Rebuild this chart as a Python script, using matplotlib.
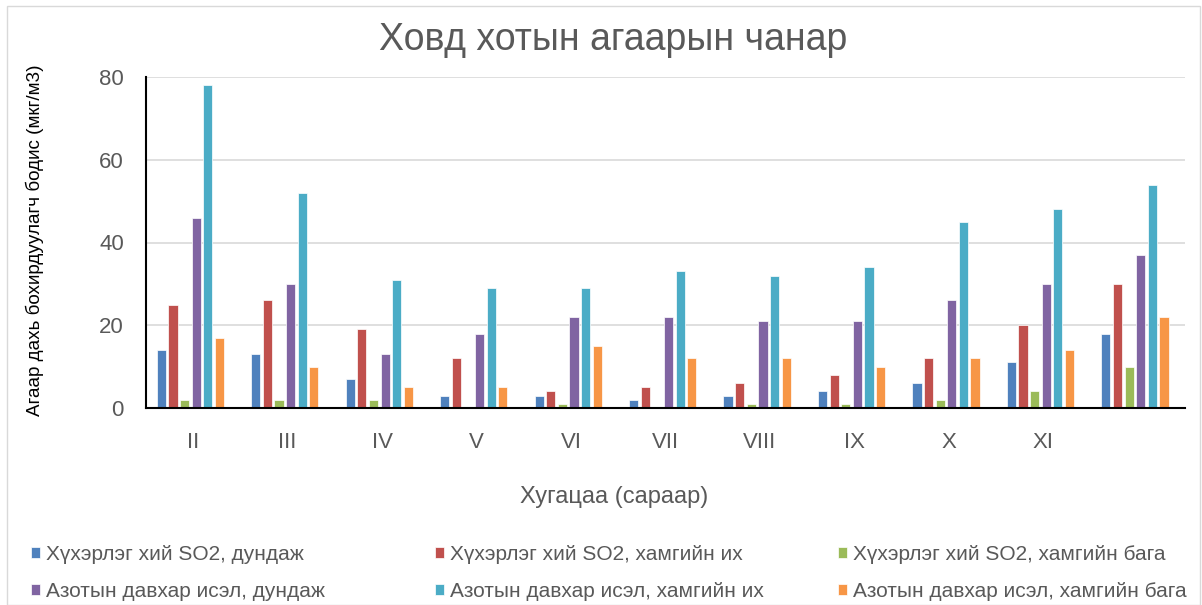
import matplotlib
matplotlib.use("Agg")
import matplotlib.pyplot as plt
import numpy as np
from matplotlib.patches import Rectangle

categories = ["II", "III", "IV", "V", "VI", "VII", "VIII", "IX", "X", "XI", ""]
so2_avg = [14, 13, 7, 3, 3, 2, 3, 4, 6, 11, 18]
so2_max = [25, 26, 19, 12, 4, 5, 6, 8, 12, 20, 30]
so2_min = [2, 2, 2, 0, 1, 0, 1, 1, 2, 4, 10]
no2_avg = [46, 30, 13, 18, 22, 22, 21, 21, 26, 30, 37]
no2_max = [78, 52, 31, 29, 29, 33, 32, 34, 45, 48, 54]
no2_min = [17, 10, 5, 5, 15, 12, 12, 10, 12, 14, 22]

series_names = [
    "Хүхэрлэг хий SO2, дундаж",
    "Хүхэрлэг хий SO2, хамгийн их",
    "Хүхэрлэг хий SO2, хамгийн бага",
    "Азотын давхар исэл, дундаж",
    "Азотын давхар исэл, хамгийн их",
    "Азотын давхар исэл, хамгийн бага",
]
series = [so2_avg, so2_max, so2_min, no2_avg, no2_max, no2_min]
colors = ["#4F81BD", "#C0504D", "#9BBB59", "#8064A2", "#4BACC6", "#F79646"]

plt.rcParams['font.family'] = ['Liberation Sans', 'DejaVu Sans']
txt = "#595959"

fig = plt.figure(figsize=(12.02, 6.05), dpi=100)
fig.patches.append(Rectangle((0.006, 0.0), 0.992, 0.99, transform=fig.transFigure,
                             fill=False, edgecolor="#D9D9D9", linewidth=1))
ax = fig.add_axes([146/1202, 1-408/605, (1185-146)/1202, (408-77)/605])

x = np.arange(len(categories))
step = 0.123
width = 0.097
handles = []
for i, (vals, name, c) in enumerate(zip(series, series_names, colors)):
    h = ax.bar(x + (i - 2.5) * step - 0.03, vals, width=width, color=c, label=name,
               edgecolor="white", linewidth=0.5, zorder=3)
    handles.append(h)

ax.set_xlim(-0.5, len(categories) - 0.5)
ax.set_ylim(0, 80)
ax.set_yticks([0, 20, 40, 60, 80])
ax.set_xticks(x)
ax.set_xticklabels(categories)
ax.yaxis.grid(True, color="#D9D9D9", linewidth=1.2, zorder=0)
ax.tick_params(axis='both', length=0, labelsize=16, labelcolor=txt)
ax.tick_params(axis='x', pad=17)
ax.tick_params(axis='y', pad=16)
for s in ["top", "right"]:
    ax.spines[s].set_visible(False)
for s in ["left", "bottom"]:
    ax.spines[s].set_color("black")
    ax.spines[s].set_linewidth(1.5)
    ax.spines[s].set_zorder(4)

fig.text(0.51, 1-40/605, "Ховд хотын агаарын чанар", ha="center", va="center",
         fontsize=27, color=txt)
fig.text(0.511, 1-497/605, "Хугацаа (сараар)", ha="center", va="center",
         fontsize=17, color=txt)
fig.text(35/1202, 1-240/605, "Агаар дахь бохирдуулагч бодис (мкг/м3)", rotation=90,
         ha="center", va="center", fontsize=13.6, color="black")

col_x = [27/1202, 431/1202, 834/1202]
for j in range(3):
    leg = fig.legend([handles[j], handles[j + 3]], [series_names[j], series_names[j + 3]],
                     loc="upper left", bbox_to_anchor=(col_x[j], 1-541/605),
                     frameon=False, fontsize=15, handlelength=0.42, handleheight=0.42,
                     handletextpad=0.3, labelspacing=0.85, borderaxespad=0, borderpad=0.2)
    for t in leg.get_texts():
        t.set_color(txt)

fig.savefig("out.png", dpi=100)
